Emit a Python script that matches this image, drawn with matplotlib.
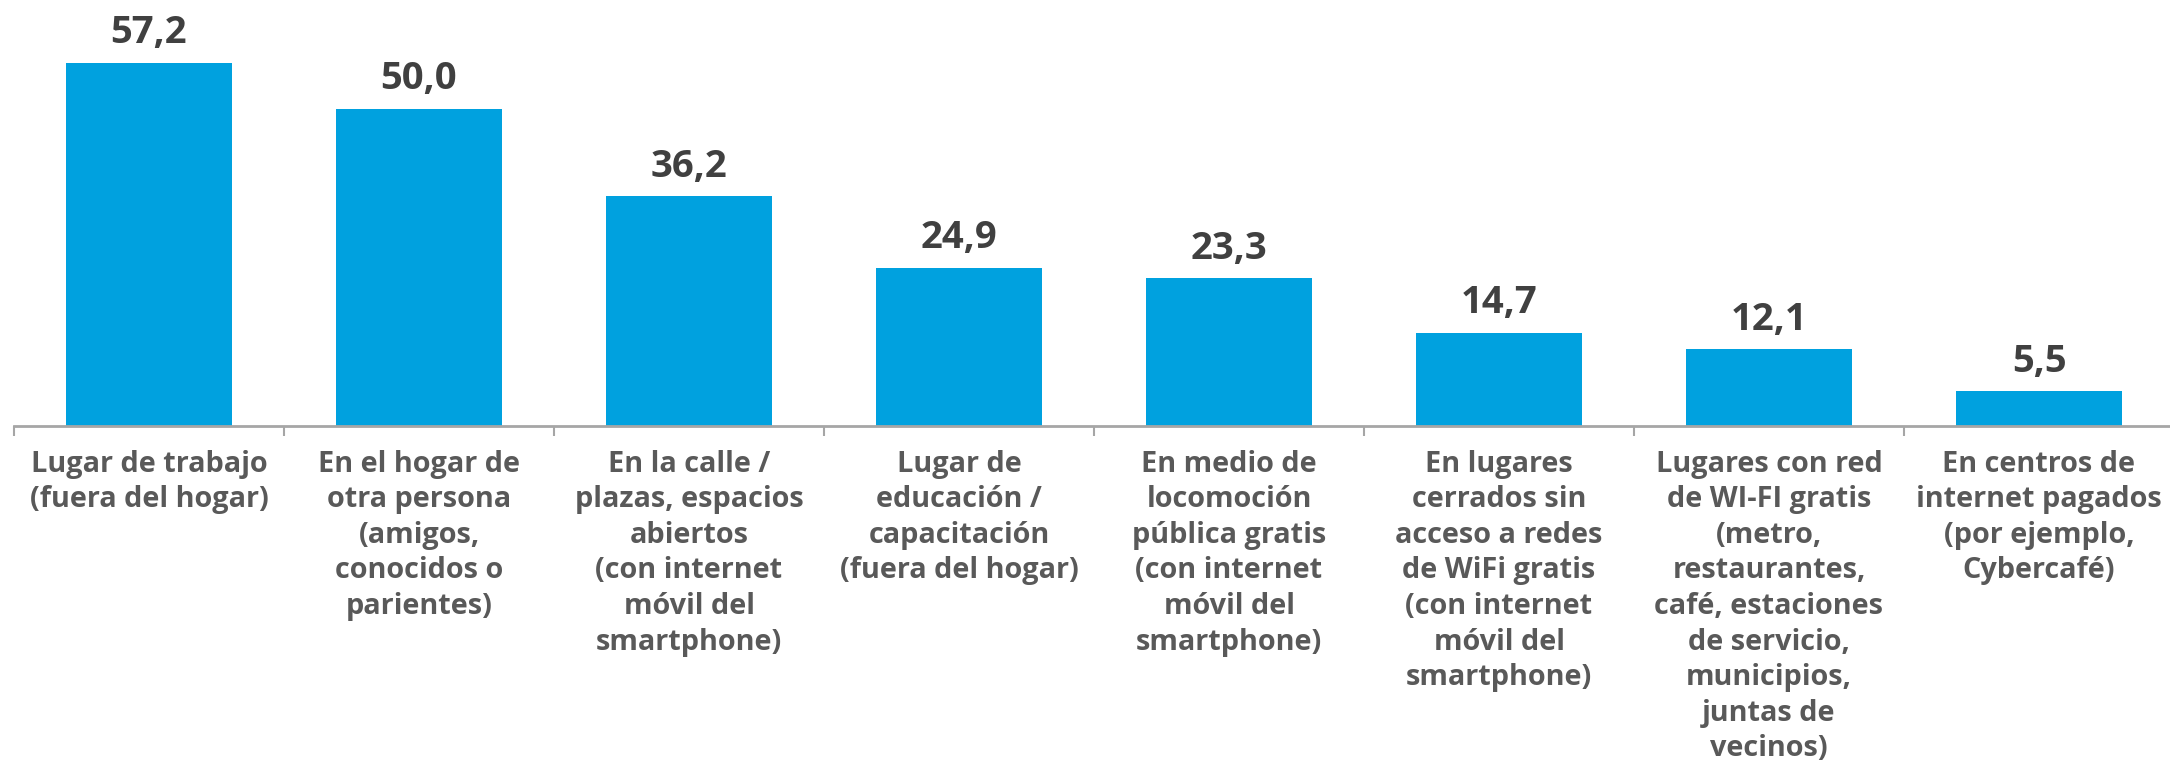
import matplotlib.pyplot as plt

categorias = [
    "Lugar de trabajo\n(fuera del hogar)",
    "En el hogar de\notra persona\n(amigos,\nconocidos o\nparientes)",
    "En la calle /\nplazas, espacios\nabiertos\n(con internet\nmóvil del\nsmartphone)",
    "Lugar de\neducación /\ncapacitación\n(fuera del hogar)",
    "En medio de\nlocomoción\npública gratis\n(con internet\nmóvil del\nsmartphone)",
    "En lugares\ncerrados sin\nacceso a redes\nde WiFi gratis\n(con internet\nmóvil del\nsmartphone)",
    "Lugares con red\nde WI-FI gratis\n(metro,\nrestaurantes,\ncafé, estaciones\nde servicio,\nmunicipios,\njuntas de\nvecinos)",
    "En centros de\ninternet pagados\n(por ejemplo,\nCybercafé)",
]
valores = [57.2, 50.0, 36.2, 24.9, 23.3, 14.7, 12.1, 5.5]

azul = "#00A1DF"
gris_eje = "#A6A6A6"

plt.rcParams['font.family'] = ['Open Sans', 'DejaVu Sans']

fig = plt.figure(figsize=(21.7, 7.65), dpi=100)
ax = fig.add_axes([14 / 2170, 339 / 765, 2160 / 2170, 426 / 765])

x = list(range(len(valores)))
ax.bar(x, valores, width=0.615, color=azul)

for xi, v in zip(x, valores):
    ax.annotate(f"{v:.1f}".replace(".", ","), (xi, v), xytext=(0, 14),
                textcoords="offset points", ha="center", va="baseline",
                fontsize=27.5, fontweight="bold", color="#404040")

ax.set_xlim(-0.5, len(valores) - 0.5)
ax.set_ylim(0, 67.1)

ax.set_xticks(x)
ax.set_xticklabels(categorias, fontsize=20.8, fontweight="bold", color="#595959",
                   linespacing=1.3, va="top")
ax.tick_params(axis="x", which="major", length=0, pad=17)
ax.set_xticks([i - 0.5 for i in range(len(valores) + 1)], minor=True)
ax.tick_params(axis="x", which="minor", length=7.2, width=1.5, color=gris_eje, direction="out")

ax.set_yticks([])
for s in ["top", "right", "left"]:
    ax.spines[s].set_visible(False)
ax.spines["bottom"].set_color(gris_eje)
ax.spines["bottom"].set_linewidth(2)

fig.savefig("out.png", dpi=100)
